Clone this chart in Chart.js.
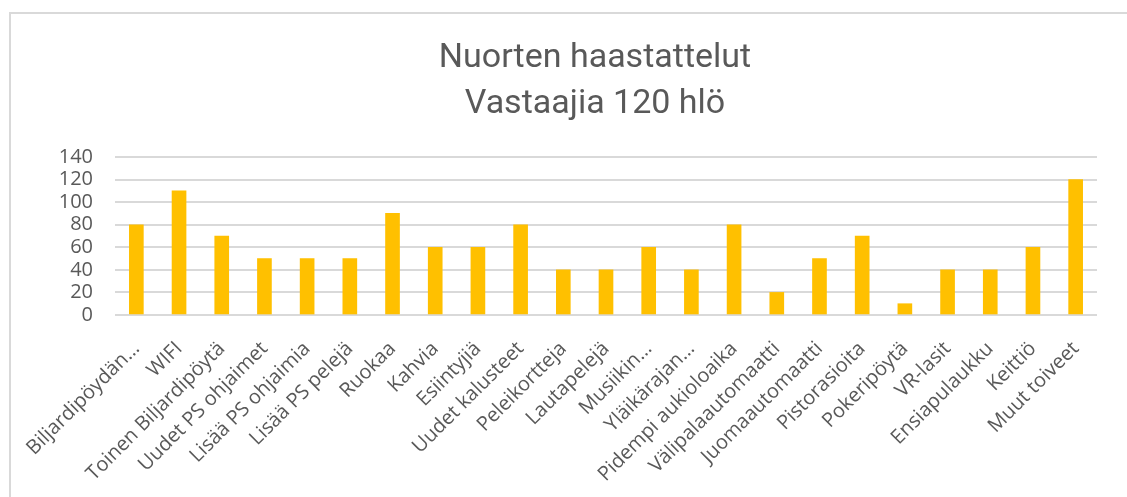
<!DOCTYPE html>
<html lang="fi">
<head>
<meta charset="utf-8">
<title>Nuorten haastattelut</title>
<script src="https://cdn.jsdelivr.net/npm/chart.js@4/dist/chart.umd.min.js"></script>
<style>
  html, body { margin: 0; padding: 0; background: #fff; }
  #wrap { position: relative; width: 1127px; height: 497px; overflow: hidden; }
  #frame {
    position: absolute; left: 9px; top: 12px; width: 1130px; height: 520px;
    border: 2px solid #d9d9d9; box-sizing: border-box;
  }
  #chart { position: absolute; left: 0; top: 0; }
</style>
</head>
<body>
<div id="wrap">
  <div id="frame"></div>
  <canvas id="chart" width="1127" height="497"></canvas>
</div>
<script>
const titleLines = ['Nuorten haastattelut', 'Vastaajia 120 hlö'];

const categories = [
  'Biljardipöydän…', 'WIFI', 'Toinen Biljardipöytä', 'Uudet PS ohjaimet',
  'Lisää PS ohjaimia', 'Lisää PS pelejä', 'Ruokaa', 'Kahvia', 'Esiintyjiä',
  'Uudet kalusteet', 'Peleikortteja', 'Lautapelejä', 'Musiikin…',
  'Yläikärajan…', 'Pidempi aukioloaika', 'Välipalaautomaatti',
  'Juomaautomaatti', 'Pistorasioita', 'Pokeripöytä', 'VR-lasit',
  'Ensiapulaukku', 'Keittiö', 'Muut toiveet'
];

const answers = [80, 110, 70, 50, 50, 50, 90, 60, 60, 80, 40, 40, 60, 40, 80, 20, 50, 70, 10, 40, 40, 60, 120];

const yTicks = [0, 20, 40, 60, 80, 100, 120, 140];

const textColor = '#595959';
const tickFamily = '"Open Sans", "DejaVu Sans", sans-serif';

// y-akselin tekstit piirretaan akselilaatikon vasemman reunan yli, joten leikkausaluetta laajennetaan
const labelRoom = {
  id: 'labelRoom',
  afterLayout(chart) {
    chart.scales.y.left = 0;
  }
};

new Chart(document.getElementById('chart'), {
  type: 'bar',
  data: {
    labels: categories,
    datasets: [
      {
        label: 'Vastaajat',
        data: answers,
        backgroundColor: '#ffc000',
        borderWidth: 0,
        barThickness: 14
      }
    ]
  },
  options: {
    responsive: false,
    animation: false,
    layout: { padding: { left: 93, right: 30, top: 0, bottom: 0 } },
    plugins: {
      legend: { display: false },
      tooltip: { enabled: false },
      title: {
        display: true,
        text: titleLines,
        color: textColor,
        font: { family: 'Roboto, sans-serif', size: 34, weight: 'normal', lineHeight: 1.353 },
        padding: { top: 35, bottom: 30 }
      }
    },
    scales: {
      x: {
        grid: { display: false, drawTicks: false },
        border: { display: false },
        ticks: {
          color: textColor,
          font: { family: tickFamily, size: 20 },
          autoSkip: false,
          minRotation: 45,
          maxRotation: 45,
          padding: 22
        },
        afterFit: (scale) => { scale.height = 182; }
      },
      y: {
        min: 0,
        max: 140,
        afterBuildTicks: (scale) => { scale.ticks = yTicks.map((v) => ({ value: v })); },
        grid: { color: '#d9d9d9', lineWidth: 2, drawTicks: false },
        border: { display: false },
        ticks: { color: textColor, font: { family: tickFamily, size: 20 }, padding: 22, autoSkip: false },
        afterFit: (scale) => { scale.width = 22; }
      }
    }
  },
  plugins: [labelRoom]
});
</script>
</body>
</html>
